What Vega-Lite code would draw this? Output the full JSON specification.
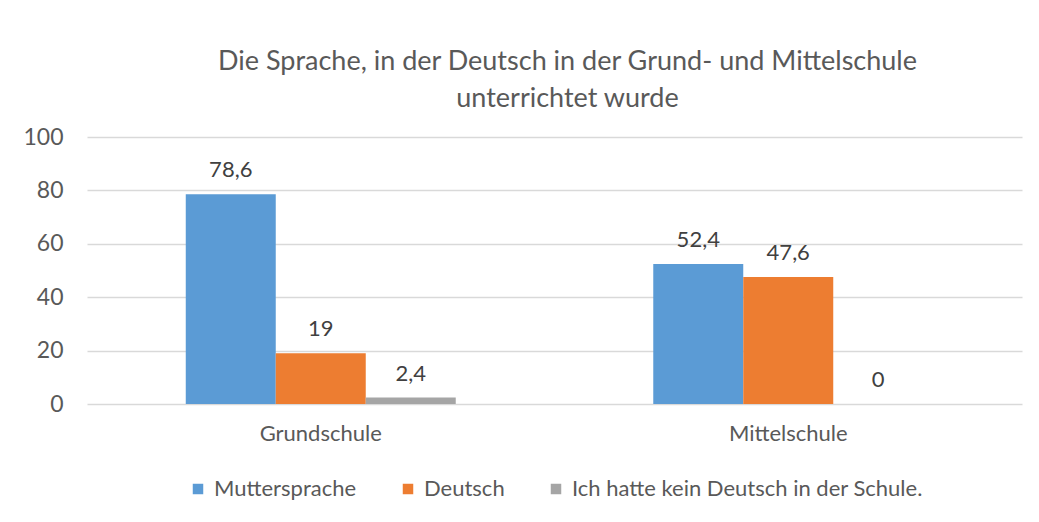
{
  "$schema": "https://vega.github.io/schema/vega-lite/v6.json",
  "autosize": {"type": "none"},
  "padding": {"left": 87, "top": 137, "right": 17, "bottom": 118},
  "width": 935,
  "height": 267,
  "background": "white",
  "title": {
    "text": ["Die Sprache, in der Deutsch in der Grund- und Mittelschule", "unterrichtet wurde"],
    "anchor": "middle",
    "dx": 13,
    "offset": 13,
    "font": "Lato",
    "fontSize": 27,
    "fontWeight": "normal",
    "color": "#595959",
    "lineHeight": 37
  },
  "data": {
    "values": [
      {"Schule": "Grundschule", "Sprache": "Muttersprache", "Wert": 78.6},
      {"Schule": "Grundschule", "Sprache": "Deutsch", "Wert": 19},
      {"Schule": "Grundschule", "Sprache": "Ich hatte kein Deutsch in der Schule.", "Wert": 2.4},
      {"Schule": "Mittelschule", "Sprache": "Muttersprache", "Wert": 52.4},
      {"Schule": "Mittelschule", "Sprache": "Deutsch", "Wert": 47.6},
      {"Schule": "Mittelschule", "Sprache": "Ich hatte kein Deutsch in der Schule.", "Wert": 0}
    ]
  },
  "encoding": {
    "x": {
      "field": "Schule",
      "type": "nominal",
      "sort": ["Grundschule", "Mittelschule"],
      "scale": {"paddingInner": 0.4225, "paddingOuter": 0.21125},
      "axis": {"title": null, "labelAngle": 0, "domain": false, "ticks": false, "labelPadding": 19, "labelFont": "Lato", "labelFontSize": 22, "labelColor": "#595959"}
    },
    "xOffset": {
      "field": "Sprache",
      "type": "nominal",
      "sort": ["Muttersprache", "Deutsch", "Ich hatte kein Deutsch in der Schule."],
      "scale": {"paddingInner": 0, "paddingOuter": 0}
    },
    "y": {
      "field": "Wert",
      "type": "quantitative",
      "scale": {"domain": [0, 100], "nice": false},
      "axis": {"title": null, "values": [0, 20, 40, 60, 80, 100], "domain": false, "ticks": false, "labelPadding": 24, "labelFont": "Lato", "labelFontSize": 23, "labelColor": "#595959", "gridColor": "#d9d9d9", "gridWidth": 1.5}
    }
  },
  "layer": [
    {
      "mark": {"type": "bar"},
      "encoding": {
        "color": {
          "field": "Sprache",
          "type": "nominal",
          "sort": ["Muttersprache", "Deutsch", "Ich hatte kein Deutsch in der Schule."],
          "scale": {"domain": ["Muttersprache", "Deutsch", "Ich hatte kein Deutsch in der Schule."], "range": ["#5B9BD5", "#ED7D31", "#A5A5A5"]},
          "legend": {
            "title": null,
            "orient": "bottom",
            "direction": "horizontal",
            "offset": 34,
            "symbolType": "square",
            "symbolSize": 110,
            "symbolStrokeWidth": 0,
            "labelFont": "Lato",
            "labelFontSize": 22,
            "labelColor": "#595959",
            "labelOffset": 5,
            "columnPadding": 40,
            "labelLimit": 600
          }
        }
      }
    },
    {
      "mark": {"type": "text", "baseline": "alphabetic", "dy": -17, "font": "Lato", "fontSize": 22, "color": "#404040"},
      "encoding": {
        "text": {"field": "Wert", "type": "quantitative", "format": "~g"}
      }
    }
  ],
  "config": {
    "locale": {"number": {"decimal": ",", "thousands": ".", "grouping": [3], "currency": ["", " €"]}},
    "view": {"stroke": null},
    "legend": {"layout": {"bottom": {"anchor": "middle"}}}
  }
}
